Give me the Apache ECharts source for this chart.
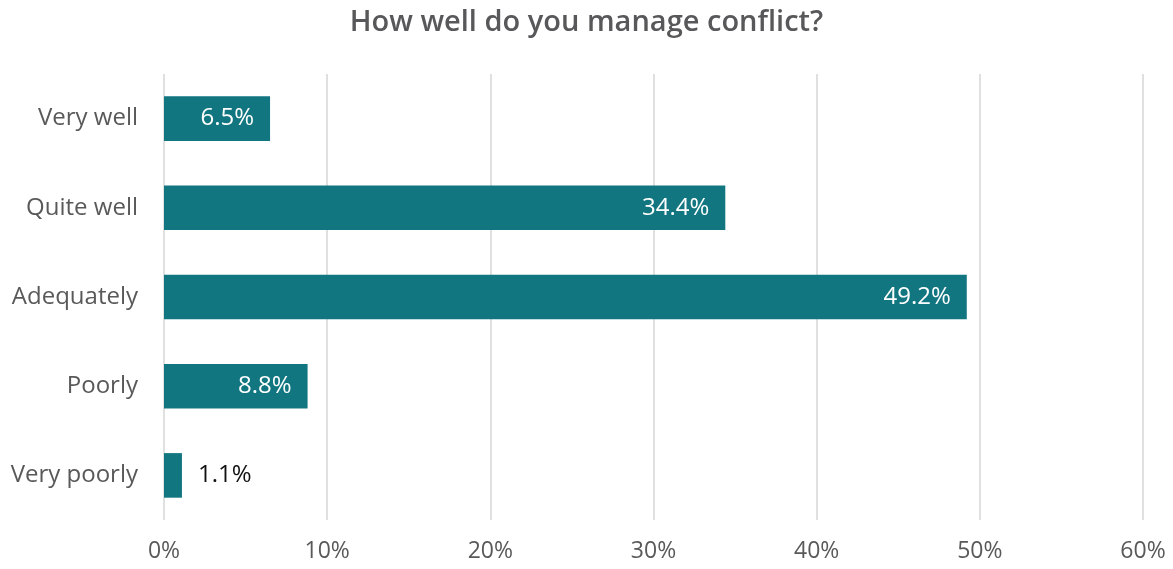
<!DOCTYPE html>
<html>
<head>
<meta charset="utf-8">
<script src="https://cdn.jsdelivr.net/npm/echarts@6/dist/echarts.min.js"></script>
<style>html,body{margin:0;padding:0;background:#fff;}#c{width:1173px;height:569px;}</style>
</head>
<body>
<div id="c"></div>
<script>
const titleText = "How well do you manage conflict?";
const categories = ["Very well", "Quite well", "Adequately", "Poorly", "Very poorly"];
const values = [6.5, 34.4, 49.2, 8.8, 1.1];
const xTicks = [0, 10, 20, 30, 40, 50, 60];
const insideThreshold = 3;

const chart = echarts.init(document.getElementById('c'), null, {renderer: 'canvas'});
const font = '"Open Sans", "Noto Sans", sans-serif';
chart.setOption({
  animation: false,
  backgroundColor: '#fff',
  title: {
    text: titleText, left: 'center', top: 3,
    textStyle: {fontFamily: font, fontSize: 29, fontWeight: 600, color: '#58585a'}
  },
  grid: {left: 164, right: 30, top: 74, bottom: 49, containLabel: false},
  xAxis: {
    type: 'value', min: xTicks[0], max: xTicks[xTicks.length - 1], interval: 10,
    axisLine: {show: false}, axisTick: {show: false},
    splitLine: {show: true, lineStyle: {color: '#e0e0e0', width: 2}},
    axisLabel: {formatter: v => v + '%', fontFamily: font, fontSize: 23, color: '#595959', margin: 20}
  },
  yAxis: {
    type: 'category', data: categories, inverse: true,
    axisLine: {show: false}, axisTick: {show: false},
    axisLabel: {fontFamily: font, fontSize: 24, color: '#595959', margin: 26}
  },
  series: [{
    type: 'bar', barWidth: '50%',
    itemStyle: {color: '#127681'},
    data: values.map(v => ({
      value: v,
      label: v >= insideThreshold
        ? {show: true, position: 'insideRight', distance: 16, color: '#fff'}
        : {show: true, position: 'right', distance: 16, color: '#111'}
    })),
    label: {fontFamily: font, fontSize: 24, formatter: p => p.value.toFixed(1) + '%'}
  }]
});
</script>
</body>
</html>
